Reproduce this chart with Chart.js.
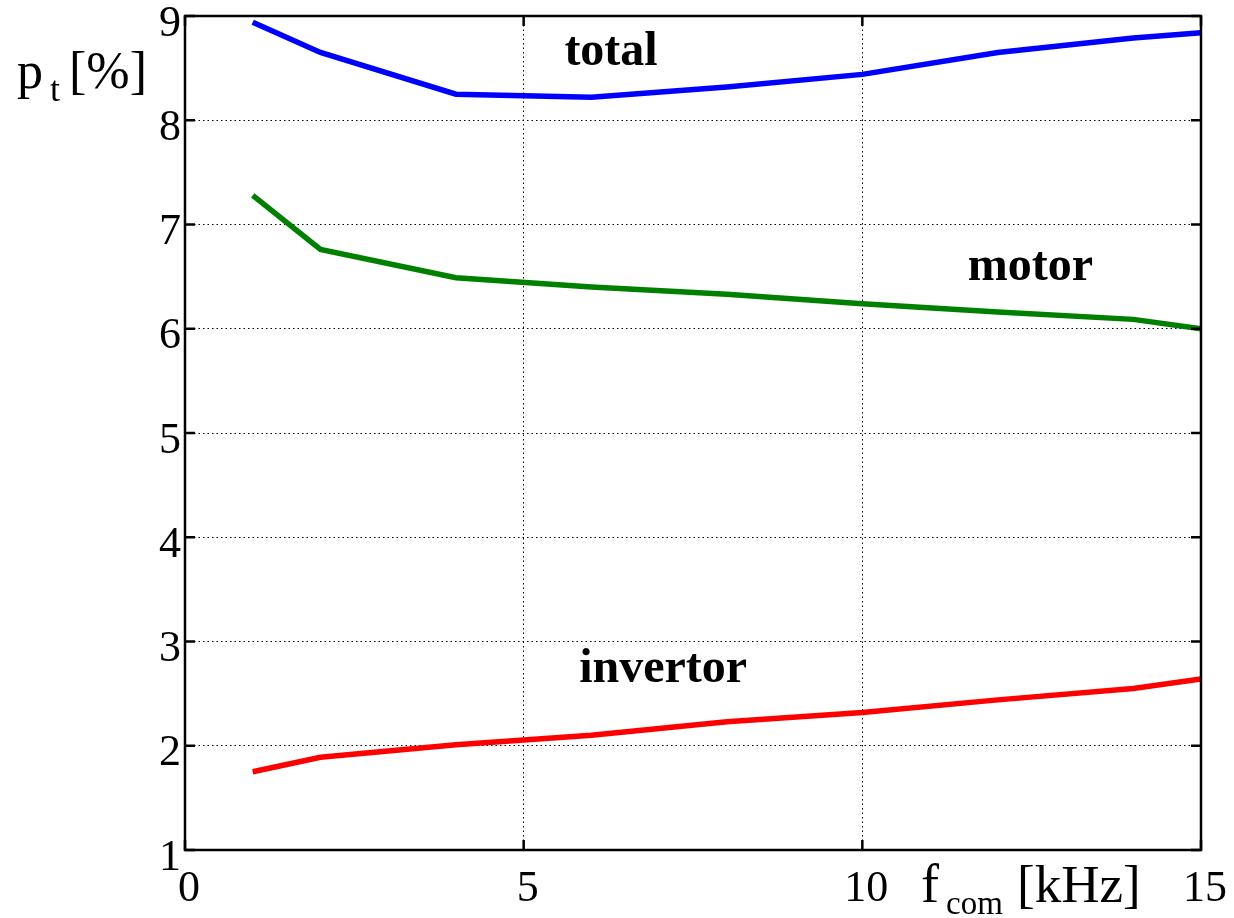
<!DOCTYPE html>
<html>
<head>
  <title>Losses vs switching frequency</title>
  <script src="https://cdn.jsdelivr.net/npm/chart.js"></script>
  <style>
    body { margin: 0; background: #fff; }
  </style>
</head>
<body>
  <canvas id="chart" width="1234" height="918"></canvas>
  <script>
    // switching frequency [kHz]
    const freq = [1, 2, 4, 6, 8, 10, 12, 14, 15];
    // losses [%]
    const total    = [8.94, 8.65, 8.25, 8.22, 8.32, 8.44, 8.65, 8.79, 8.84];
    const motor    = [7.28, 6.76, 6.49, 6.40, 6.33, 6.24, 6.16, 6.09, 6.00];
    const invertor = [1.75, 1.89, 2.01, 2.10, 2.23, 2.32, 2.44, 2.55, 2.64];
    const xTicks = [0, 5, 10, 15];
    const yTicks = [1, 2, 3, 4, 5, 6, 7, 8, 9];

    const serif = '"Liberation Serif", "Times New Roman", serif';

    function pts(ys) {
      return freq.map((f, i) => ({ x: f, y: ys[i] }));
    }

    // frame, inward ticks, curve names and axis titles
    const decor = {
      id: 'decor',
      afterDraw(chart) {
        const { ctx, chartArea: a, scales: { x, y } } = chart;
        ctx.save();
        ctx.strokeStyle = '#000';
        ctx.lineWidth = 2.5;
        ctx.strokeRect(a.left, a.top, a.right - a.left, a.bottom - a.top);
        ctx.beginPath();
        yTicks.forEach(v => {
          const py = y.getPixelForValue(v);
          ctx.moveTo(a.left, py); ctx.lineTo(a.left + 10, py);
          ctx.moveTo(a.right, py); ctx.lineTo(a.right - 10, py);
        });
        xTicks.forEach(v => {
          const px = x.getPixelForValue(v);
          ctx.moveTo(px, a.bottom); ctx.lineTo(px, a.bottom - 10);
          ctx.moveTo(px, a.top); ctx.lineTo(px, a.top + 10);
        });
        ctx.stroke();

        ctx.fillStyle = '#000';
        ctx.textAlign = 'center';
        ctx.textBaseline = 'middle';
        ctx.font = 'bold 48px ' + serif;
        ctx.fillText('total', x.getPixelForValue(6.29), y.getPixelForValue(8.65));
        ctx.fillText('motor', x.getPixelForValue(12.48), y.getPixelForValue(6.59));
        ctx.fillText('invertor', x.getPixelForValue(7.06), y.getPixelForValue(2.73));

        ctx.textAlign = 'left';
        ctx.textBaseline = 'alphabetic';
        ctx.font = '52px ' + serif;
        ctx.fillText('p', 17, 88);
        ctx.font = '36px ' + serif;
        ctx.fillText('t', 50, 101);
        ctx.font = '52px ' + serif;
        ctx.fillText('[%]', 69, 88);

        ctx.font = '54px ' + serif;
        ctx.fillText('f', 921, 902);
        ctx.font = '33px ' + serif;
        ctx.fillText('com', 946, 914);
        ctx.font = '53px ' + serif;
        ctx.fillText('[kHz]', 1017, 902);
        ctx.restore();
      }
    };

    const gridOpts = { color: '#000', lineWidth: 1, tickLength: 0, drawTicks: false };
    const borderOpts = { display: false, dash: [1.5, 3] };

    new Chart(document.getElementById('chart'), {
      type: 'line',
      data: {
        datasets: [
          { label: 'total', data: pts(total), borderColor: '#0000ff' },
          { label: 'motor', data: pts(motor), borderColor: '#008000' },
          { label: 'invertor', data: pts(invertor), borderColor: '#ff0000' }
        ]
      },
      options: {
        responsive: false,
        animation: false,
        layout: { padding: { top: 16, right: 33, left: 0, bottom: 0 } },
        elements: {
          line: { borderWidth: 5.5, tension: 0, fill: false },
          point: { radius: 0 }
        },
        plugins: { legend: { display: false }, tooltip: { enabled: false } },
        scales: {
          x: {
            type: 'linear', min: 0, max: 15,
            afterBuildTicks: s => { s.ticks = xTicks.map(v => ({ value: v })); },
            afterFit: s => { s.height = 68; s.paddingLeft = 0; s.paddingRight = 0; },
            grid: gridOpts,
            border: borderOpts,
            ticks: { color: '#000', font: { family: serif, size: 44 }, padding: 13, labelOffset: 4, maxRotation: 0, autoSkip: false }
          },
          y: {
            min: 1, max: 9,
            afterBuildTicks: s => { s.ticks = yTicks.map(v => ({ value: v })); },
            afterFit: s => { s.width = 185; s.paddingTop = 0; s.paddingBottom = 0; },
            grid: gridOpts,
            border: borderOpts,
            ticks: { color: '#000', font: { family: serif, size: 44 }, padding: 4, labelOffset: 8, autoSkip: false }
          }
        }
      },
      plugins: [decor]
    });
  </script>
</body>
</html>
